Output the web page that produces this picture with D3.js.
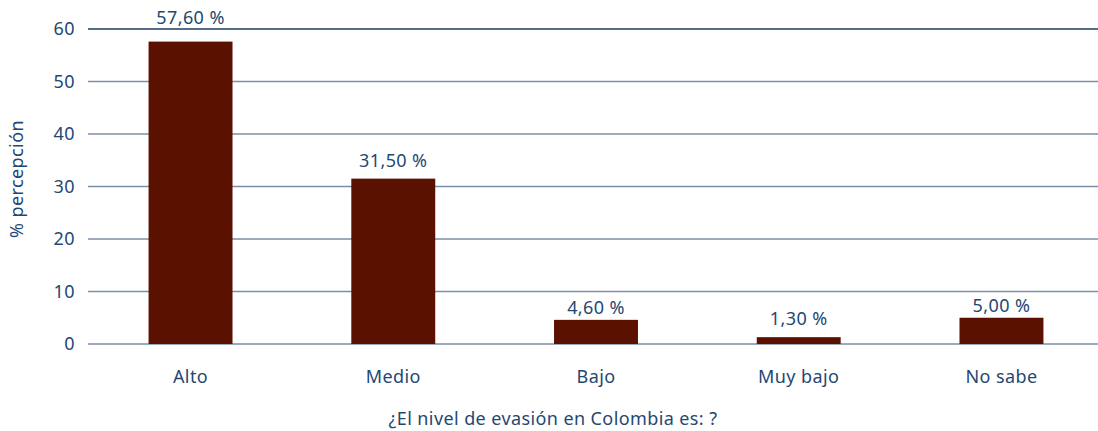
<!DOCTYPE html>
<html>
<head>
<meta charset="utf-8">
<script src="https://cdn.jsdelivr.net/npm/d3@7"></script>
<style>
  body { margin: 0; background: #fff; }
  text { font-family: "Noto Sans", "DejaVu Sans", sans-serif; fill: #1f4872; font-size: 18px; letter-spacing: 0.4px; }
</style>
</head>
<body>
<div id="chart"></div>
<script>
// --- Data ---
const categories = ['Alto', 'Medio', 'Bajo', 'Muy bajo', 'No sabe'];
const values = [57.6, 31.5, 4.6, 1.3, 5.0];
const valueLabels = ['57,60 %', '31,50 %', '4,60 %', '1,30 %', '5,00 %'];
const yTicks = [0, 10, 20, 30, 40, 50, 60];
// gap between bar top and its label baseline (as in the original)
const labelGap = [18, 12, 6, 12, 6];

const W = 1098, H = 431;
const margin = { top: 29, right: 0, bottom: 87, left: 88 };
const width = W - margin.left - margin.right;
const height = H - margin.top - margin.bottom;

const svg = d3.select('#chart').append('svg')
    .attr('width', W).attr('height', H);
const g = svg.append('g').attr('transform', `translate(${margin.left},${margin.top})`);

const x = d3.scaleBand().domain(categories).range([3, width + 3]).paddingInner(0.586).paddingOuter(0.284);
const y = d3.scaleLinear().domain([0, 60]).range([height, 0]);

// Gridlines + y tick labels
yTicks.forEach(t => {
    g.append('line')
        .attr('x1', 0).attr('x2', width)
        .attr('y1', y(t)).attr('y2', y(t))
        .attr('stroke', t === 60 ? '#1d3d61' : '#7b8fa6')
        .attr('stroke-width', 1.5);
    g.append('text')
        .attr('x', -13).attr('y', y(t)).attr('dy', '0.35em')
        .attr('text-anchor', 'end')
        .text(t);
});

// Bars
g.selectAll('rect.bar').data(values).enter().append('rect')
    .attr('class', 'bar')
    .attr('x', (d, i) => x(categories[i]))
    .attr('y', d => y(d))
    .attr('width', x.bandwidth())
    .attr('height', d => y(0) - y(d))
    .attr('fill', '#5a1100');

// Value labels
g.selectAll('text.val').data(values).enter().append('text')
    .attr('class', 'val')
    .attr('x', (d, i) => x(categories[i]) + x.bandwidth() / 2)
    .attr('y', (d, i) => y(d) - labelGap[i])
    .attr('text-anchor', 'middle')
    .text((d, i) => valueLabels[i]);

// Category labels
categories.forEach(c => {
    g.append('text')
        .attr('x', x(c) + x.bandwidth() / 2)
        .attr('y', height + 39)
        .attr('text-anchor', 'middle')
        .text(c);
});

// Axis titles
svg.append('text')
    .attr('x', 553).attr('y', 425)
    .attr('text-anchor', 'middle')
    .text('¿El nivel de evasión en Colombia es: ?');

svg.append('text')
    .attr('transform', `translate(23,179) rotate(-90)`)
    .attr('text-anchor', 'middle')
    .text('% percepción');
</script>
</body>
</html>
